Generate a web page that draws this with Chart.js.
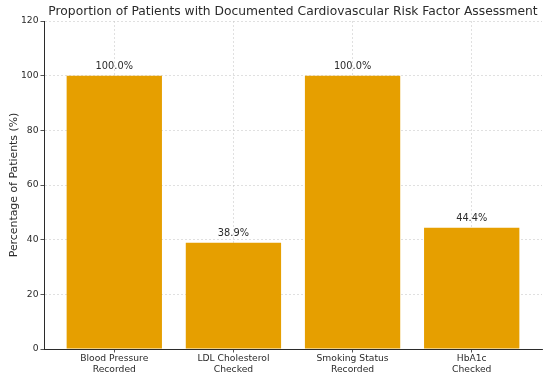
<!DOCTYPE html>
<html>
<head>
<meta charset="utf-8">
<script src="https://cdn.jsdelivr.net/npm/chart.js@4.4.0/dist/chart.umd.min.js"></script>
<style>
  html, body { margin: 0; padding: 0; background: #fff; }
  #wrap { width: 550px; height: 377px; }
</style>
</head>
<body>
<div id="wrap"><canvas id="chart" width="550" height="377"></canvas></div>
<script>
// Data
const categories = [
    ['Blood Pressure', 'Recorded'],
    ['LDL Cholesterol', 'Checked'],
    ['Smoking Status', 'Recorded'],
    ['HbA1c', 'Checked']
];
const percentages = [100.0, 38.9, 100.0, 44.4];
const yTicks = [0, 20, 40, 60, 80, 100, 120];
const chartTitle = 'Proportion of Patients with Documented Cardiovascular Risk Factor Assessment';

const barColor = '#E69F00';
const textColor = '#2b2b2b';
const gridColor = 'rgba(200,200,200,0.7)';
const FONT = "'DejaVu Sans', sans-serif";

// value labels above bars + title centred on plot area
const valueLabels = {
    id: 'valueLabels',
    afterDatasetsDraw(chart) {
        const ctx = chart.ctx;
        const meta = chart.getDatasetMeta(0);
        ctx.save();
        ctx.fillStyle = textColor;
        ctx.font = `9.8px ${FONT}`;
        ctx.textAlign = 'center';
        ctx.textBaseline = 'alphabetic';
        meta.data.forEach((bar, i) => {
            ctx.fillText(percentages[i].toFixed(1) + '%', bar.x, bar.y - 7);
        });
        // title
        const area = chart.chartArea;
        ctx.font = `12.3px ${FONT}`;
        ctx.textBaseline = 'middle';
        ctx.fillText(chartTitle, (area.left + area.right) / 2, 12);
        ctx.restore();
    }
};

const ctx = document.getElementById('chart').getContext('2d');

new Chart(ctx, {
    type: 'bar',
    data: {
        datasets: [{
            data: percentages.map((v, i) => ({ x: i, y: v })),
            backgroundColor: barColor,
            borderWidth: 0,
            barPercentage: 0.8,
            categoryPercentage: 1.0
        }]
    },
    options: {
        responsive: false,
        animation: false,
        layout: { padding: { top: 21, right: 8, bottom: 0, left: 0 } },
        plugins: {
            legend: { display: false },
            tooltip: { enabled: false },
            title: { display: false }
        },
        scales: {
            x: {
                type: 'linear',
                min: -0.59,
                max: 3.59,
                offset: false,
                z: 1,
                afterBuildTicks(axis) {
                    axis.ticks = categories.map((c, i) => ({ value: i }));
                },
                afterFit(axis) { axis.height = 28; },
                ticks: {
                    color: textColor,
                    font: { family: FONT, size: 9.2 },
                    padding: 1,
                    maxRotation: 0,
                    autoSkip: false,
                    callback: (v) => categories[v]
                },
                grid: {
                    offset: false,
                    color: gridColor,
                    lineWidth: 0.8,
                    drawTicks: true,
                    tickLength: 3.5,
                    tickColor: textColor,
                    tickBorderDash: []
                },
                border: { display: true, color: textColor, width: 1, dash: [2, 2] }
            },
            y: {
                min: 0,
                max: 120,
                z: 1,
                afterBuildTicks(axis) {
                    axis.ticks = yTicks.map(v => ({ value: v }));
                },
                afterFit(axis) { axis.width = 44; },
                title: {
                    display: true,
                    text: 'Percentage of Patients (%)',
                    color: textColor,
                    font: { family: FONT, size: 10.9 },
                    padding: { top: 8, bottom: 0 }
                },
                ticks: {
                    color: textColor,
                    font: { family: FONT, size: 9.2 },
                    padding: 2
                },
                grid: {
                    color: gridColor,
                    lineWidth: 0.8,
                    drawTicks: true,
                    tickLength: 3.5,
                    tickColor: textColor,
                    tickBorderDash: []
                },
                border: { display: true, color: textColor, width: 1, dash: [2, 2] }
            }
        }
    },
    plugins: [valueLabels]
});
</script>
</body>
</html>
